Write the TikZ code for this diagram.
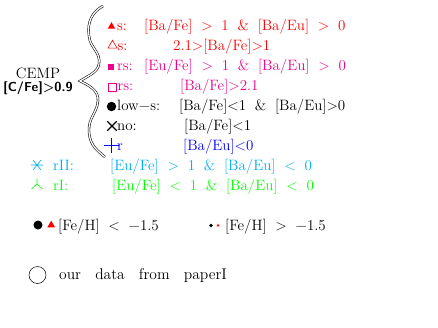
\documentclass[tikz,border=0pt]{standalone}
\usepackage{fontspec}
\newfontfamily\legserif{lmroman12-regular}[Extension=.otf, Scale=1.5, WordSpace=1.8]
\newfontfamily\paperserif{lmroman12-regular}[Extension=.otf, Scale=1.55, WordSpace=2.8]
\usepackage{xcolor}
\usepackage{tikz}
\usetikzlibrary{positioning,shapes.geometric,shapes.misc}

\begin{document}
\begin{tikzpicture}[
    x=1pt, y=-1pt,
    leg/.style={anchor=base west, inner sep=0pt, font=\legserif},
    tri/.style={regular polygon, regular polygon sides=3, inner sep=0pt},
    sq/.style={rectangle, inner sep=0pt},
    dot/.style={circle, inner sep=0pt},
    brace/.style={double, double distance=1.3pt, line width=0.55pt}
]
\useasboundingbox (0,0) rectangle (438,327);

\node[anchor=base, inner sep=0pt, font=\legserif] (cemp) at (38,78.5) {CEMP};
\node[anchor=base, inner sep=0pt, font=\fontsize{13}{15}\selectfont\sffamily\bfseries] (cfe) at (38,91.5) {[C/Fe]>0.9};

\coordinate (btop) at (103,6);
\coordinate (btip) at (80,81);
\coordinate (bbot) at (105,157);
\draw[brace] (btop) .. controls (92,12) and (87,22) .. (89,36)
    .. controls (90,48) and (101,52) .. (99,64)
    .. controls (98,72) and (88,76) .. (btip)
    .. controls (88,85) and (99,90) .. (98,101)
    .. controls (97,113) and (88,118) .. (89,132)
    .. controls (90,146) and (98,151) .. (bbot);

% CEMP classes
\node[tri, fill=red, minimum size=8.7pt] (sfill) at (111.5,26.5) {};
\node[leg, red] (slab) at (117,30) {s:};
\node[leg, red] (scond) at (144,30) {[Ba/Fe] > 1 \& [Ba/Eu] > 0};

\node[tri, draw=red, line width=0.6pt, minimum size=10.4pt] (sopen) at (112.5,45.5) {};
\node[leg, red] (slabb) at (117.5,50) {s:};
\node[leg, red] (scondb) at (173,50) {2.1>[Ba/Fe]>1};

\node[sq, fill=magenta, minimum size=6pt] (rsfill) at (111,67) {};
\node[leg, magenta] (rslab) at (117,70) {rs:};
\node[leg, magenta] (rscond) at (144,70) {[Eu/Fe] > 1 \& [Ba/Eu] > 0};

\node[sq, draw=magenta, line width=0.6pt, minimum size=8pt] (rsopen) at (112,87.5) {};
\node[leg, magenta] (rslabb) at (117.5,90) {rs:};
\node[leg, magenta] (rscondb) at (180,90) {[Ba/Fe]>2.1};

\node[dot, fill=black, minimum size=9.4pt] (lowdot) at (111.5,106.5) {};
\node[leg] (lowlab) at (117,110) {low−s:};
\node[leg] (lowcond) at (179,110) {[Ba/Fe]<1 \& [Ba/Eu]>0};

\node[cross out, draw, line width=1.3pt, minimum size=8pt, inner sep=0pt] (nocross) at (112,126) {};
\node[leg] (nolab) at (117,130) {no:};
\node[leg] (nocond) at (184,130) {[Ba/Fe]<1};

\node[cross out, draw=blue, line width=1.5pt, minimum size=9pt, inner sep=0pt, rotate=45] (rplus) at (111.5,145.5) {};
\node[leg, blue] (rlab) at (117,150) {r};
\node[leg, blue] (rcond) at (183,150) {[Ba/Eu]<0};

% r-II and r-I
\coordinate (rtwo) at (37,165);
\draw[cyan, line width=0.6pt] ([xshift=-6pt]rtwo) -- ([xshift=6pt]rtwo)
    ([shift={(-4,-5)}]rtwo) -- ([shift={(4,5)}]rtwo)
    ([shift={(-4,5)}]rtwo) -- ([shift={(4,-5)}]rtwo);
\node[leg, cyan] (rtwolab) at (53,170) {rII:};
\node[leg, cyan] (rtwocond) at (110,170) {[Eu/Fe] > 1 \& [Ba/Eu] < 0};

\coordinate (rone) at (37,184);
\draw[green, line width=0.6pt] (rone) -- ([shift={(0,-5.5)}]rone)
    (rone) -- ([shift={(-5.5,5)}]rone)
    (rone) -- ([shift={(5.5,5)}]rone);
\node[leg, green] (ronelab) at (53,190) {rI:};
\node[leg, green] (ronecond) at (112,190) {[Eu/Fe] < 1 \& [Ba/Eu] < 0};

% metallicity
\node[dot, fill=black, minimum size=9pt] (lowfe) at (38,225) {};
\node[tri, fill=red, minimum size=9pt] (lowtri) at (51.2,225.1) {};
\node[leg] (lowfelab) at (58,230) {[Fe/H] < −1.5};

\node[dot, fill=black, minimum size=3.6pt] (highfe) at (211,225.5) {};
\node[tri, fill=red, minimum size=3.6pt] (hightri) at (218,225.5) {};
\node[leg] (highfelab) at (225,230) {[Fe/H] > −1.5};

\node[dot, draw, line width=0.5pt, minimum size=17pt] (ours) at (37.5,275) {};
\node[leg, font=\paperserif] (ourslab) at (59,279) {our data from paperI};

\end{tikzpicture}
\end{document}
